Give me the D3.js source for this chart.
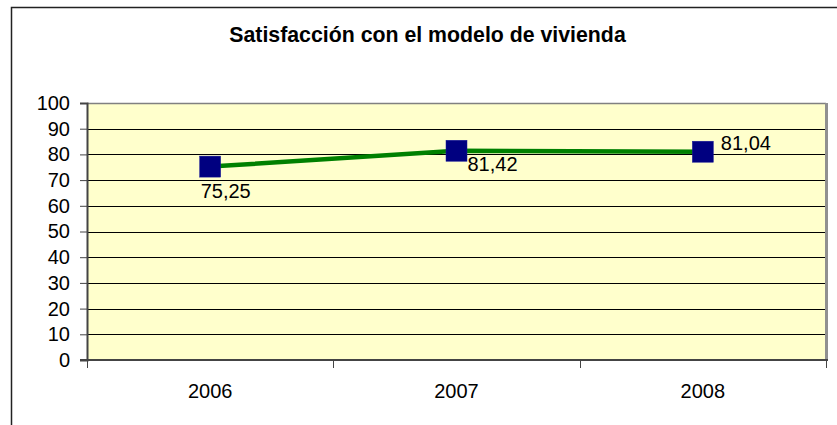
<!DOCTYPE html>
<html><head><meta charset="utf-8">
<script src="https://cdn.jsdelivr.net/npm/d3@7"></script>
<style>body{margin:0;background:#fff}svg{display:block}text{font-family:"Liberation Sans",Arial,sans-serif}</style>
</head><body>
<script>
const title = "Satisfacción con el modelo de vivienda";
const categories = ["2006","2007","2008"];
const values = [75.25, 81.42, 81.04];
const labels = ["75,25","81,42","81,04"];
const yTicks = [0,10,20,30,40,50,60,70,80,90,100];

const W = 837, H = 425;
const svg = d3.select("body").append("svg").attr("width",W).attr("height",H);
const m = {left:87, top:103, right:826, bottom:360};
const FS = 20;

// outer frame
svg.append("path").attr("d",`M11.5,${H} V7.5 H${W}`).attr("fill","none").attr("stroke","#222").attr("stroke-width",1.5);

svg.append("text").attr("x",427.5).attr("y",42).attr("text-anchor","middle")
  .attr("font-weight","bold").attr("font-size",21.3).attr("fill","#000").text(title);

const x = d3.scaleBand().domain(categories).range([m.left,m.right]);
const y = d3.scaleLinear().domain([0,100]).range([m.bottom,m.top]);

svg.append("rect").attr("x",m.left).attr("y",m.top).attr("width",m.right-m.left).attr("height",m.bottom-m.top).attr("fill","#FFFFCC");

// gridlines
svg.append("g").selectAll("line").data(yTicks.filter(d=>d>0&&d<100)).join("line")
  .attr("x1",m.left).attr("x2",m.right).attr("y1",d=>Math.round(y(d))+0.5).attr("y2",d=>Math.round(y(d))+0.5)
  .attr("stroke","#000").attr("stroke-width",1);

// plot border
svg.append("line").attr("x1",m.left).attr("x2",m.right).attr("y1",m.top+0.5).attr("y2",m.top+0.5).attr("stroke","#808080").attr("stroke-width",1.5);
svg.append("line").attr("x1",m.right+0.5).attr("x2",m.right+0.5).attr("y1",m.top).attr("y2",m.bottom).attr("stroke","#909090").attr("stroke-width",3);

// y axis
const yAxis = d3.axisLeft(y).tickValues(yTicks).tickSize(7).tickPadding(10);
const gy = svg.append("g").attr("transform",`translate(${m.left},0)`).call(yAxis);
gy.select(".domain").attr("stroke","#444").attr("stroke-width",2);
gy.selectAll(".tick line").attr("stroke","#444");
gy.selectAll(".tick text").attr("font-size",FS).attr("fill","#000").attr("font-family","Liberation Sans, Arial, sans-serif");

// x axis
const gx = svg.append("g").attr("transform",`translate(0,${m.bottom})`);
gx.append("line").attr("x1",m.left-7).attr("x2",m.right+2).attr("y1",0).attr("y2",0).attr("stroke","#444").attr("stroke-width",2);
const bounds = [m.left, ...categories.map(c=>x(c)+x.bandwidth())];
gx.selectAll("line.t").data(bounds).join("line").attr("class","t")
  .attr("x1",d=>Math.round(d)+0.5).attr("x2",d=>Math.round(d)+0.5).attr("y1",0).attr("y2",8).attr("stroke","#444");
gx.selectAll("text").data(categories).join("text")
  .attr("x",d=>x(d)+x.bandwidth()/2).attr("y",38).attr("text-anchor","middle")
  .attr("font-size",FS).attr("fill","#000").text(d=>d);

const cx = c => x(c)+x.bandwidth()/2;
const pts = categories.map((c,i)=>[cx(c), y(values[i])]);
svg.append("path").attr("d",d3.line()(pts)).attr("fill","none").attr("stroke","#008000").attr("stroke-width",4.5);
svg.append("g").selectAll("rect").data(pts).join("rect")
  .attr("x",d=>d[0]-10.5).attr("y",d=>d[1]-10.5).attr("width",21).attr("height",21)
  .attr("fill","#000080").attr("stroke","#1a1a9a").attr("stroke-width",0.5);

// data labels (offsets per point as in original)
const offs = [[-9.5,31],[11,20],[18,-2]];
svg.append("g").selectAll("text").data(pts).join("text")
  .attr("x",(d,i)=>d[0]+offs[i][0]).attr("y",(d,i)=>d[1]+offs[i][1])
  .attr("font-size",FS).attr("fill","#000").text((d,i)=>labels[i]);
</script>
</body></html>
